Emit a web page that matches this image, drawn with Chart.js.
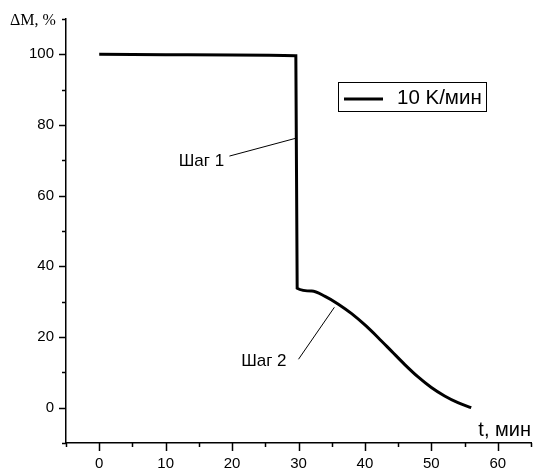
<!DOCTYPE html>
<html>
<head>
<meta charset="utf-8">
<script src="https://cdn.jsdelivr.net/npm/chart.js@4.4.1/dist/chart.umd.min.js"></script>
<style>
    html, body { margin:0; padding:0; background:#ffffff; }
    #box { width:535px; height:472px; position:relative; }
</style>
</head>
<body>
<div id="box"><canvas id="graficoMasa"></canvas></div>
<script>

// Datos (t en min, ΔM en %)

const tiempo = [0, 10, 20, 29.6, 29.8, 32, 34, 36, 38, 40, 42, 44, 46, 48, 50, 52, 54, 56];

const masa = [100, 99.9, 99.8, 99.6, 33.8, 33.0, 31.5, 29.3, 26.6, 23.4, 19.8, 16.0, 12.2, 8.7, 5.7, 3.3, 1.4, 0];

const serie = "10 K/мин";

// Etiquetas de los pasos (posición del texto y punta de la flecha, en datos)

const pasos = [
    { texto:"Шаг 1", x:18.8, y:69.8, desde:[19.6, 71.2], hasta:[29.7, 76.3] },
    { texto:"Шаг 2", x:28.2, y:13.2, desde:[30.0, 13.7], hasta:[35.4, 28.4] }
];

const ejeX = { min:-5, max:65, paso:5, etiqueta:10, desde:0, hasta:60 };
const ejeY = { min:-10, max:110, paso:10, etiqueta:20, desde:0, hasta:100 };

const puntos = tiempo.map((t, i) => ({ x:t, y:masa[i] }));

// Marcas del eje (mayores y menores) + textos

const dibujoExtra = {

    id:"dibujoExtra",

    afterDraw(chart){

        const c = chart.ctx;
        const sx = chart.scales.x;
        const sy = chart.scales.y;
        const area = chart.chartArea;

        c.save();
        c.strokeStyle = "#000";
        c.lineWidth = 1.5;

        // marcas eje X
        sx.ticks.forEach(t => {
            const px = Math.round(sx.getPixelForValue(t.value)) + 0.5;
            const mayor = t.value % ejeX.etiqueta === 0;
            c.beginPath();
            c.moveTo(px, area.bottom);
            c.lineTo(px, area.bottom + (mayor ? 8 : 4));
            c.stroke();
        });

        // marcas eje Y
        sy.ticks.forEach(t => {
            const py = Math.round(sy.getPixelForValue(t.value)) + 0.5;
            const mayor = t.value % ejeY.etiqueta === 0;
            c.beginPath();
            c.moveTo(area.left, py);
            c.lineTo(area.left - (mayor ? 7 : 4), py);
            c.stroke();
        });

        // pasos
        c.fillStyle = "#000";
        c.font = "17px 'Liberation Sans', Arial, sans-serif";
        c.textAlign = "right";
        c.textBaseline = "middle";
        c.lineWidth = 1;

        pasos.forEach(p => {
            c.fillText(p.texto, sx.getPixelForValue(p.x), sy.getPixelForValue(p.y));
            c.beginPath();
            c.moveTo(sx.getPixelForValue(p.desde[0]), sy.getPixelForValue(p.desde[1]));
            c.lineTo(sx.getPixelForValue(p.hasta[0]), sy.getPixelForValue(p.hasta[1]));
            c.stroke();
        });

        // títulos de los ejes
        c.font = "16px 'Liberation Serif', 'Times New Roman', serif";
        c.textAlign = "left";
        c.textBaseline = "alphabetic";
        c.fillText("ΔM, %", 10, 25);

        c.font = "20px 'Liberation Sans', Arial, sans-serif";
        c.textAlign = "right";
        c.fillText("t, мин", 531, 436);

        // leyenda
        c.lineWidth = 1;
        c.strokeRect(338.5, 82.5, 148, 29);
        c.lineWidth = 3;
        c.beginPath();
        c.moveTo(344, 99);
        c.lineTo(383, 99);
        c.stroke();
        c.font = "20.5px 'Liberation Sans', Arial, sans-serif";
        c.textAlign = "left";
        c.textBaseline = "middle";
        c.fillText(chart.data.datasets[0].label, 397, 98);

        c.restore();

    }

};

// Crear gráfico

const ctx = document.getElementById("graficoMasa");

new Chart(ctx,{

    type:"line",

    data:{

        datasets:[{

            label:serie,

            data:puntos,

            borderColor:"#000000",

            borderWidth:3,

            pointRadius:0,

            fill:false,

            cubicInterpolationMode:"monotone"

        }]

    },

    options:{

        responsive:true,

        maintainAspectRatio:false,

        animation:false,

        layout:{
            padding:{ top:19, right:1, left:0, bottom:0 }
        },

        plugins:{

            legend:{ display:false },

            tooltip:{ enabled:false }

        },

        scales:{

            x:{

                type:"linear",

                min:ejeX.min,

                max:ejeX.max,

                afterFit(s){ s.height = 29; },

                afterBuildTicks(s){
                    s.ticks = [];
                    for(let v = ejeX.min; v <= ejeX.max; v += ejeX.paso){ s.ticks.push({ value:v }); }
                },

                ticks:{
                    autoSkip:false,
                    maxRotation:0,
                    padding:4,
                    color:"#000",
                    font:{ family:"'Liberation Sans', Arial, sans-serif", size:15 },
                    callback(v){
                        return (v % ejeX.etiqueta === 0 && v >= ejeX.desde && v <= ejeX.hasta) ? String(v) : "";
                    }
                },

                grid:{
                    display:false,
                    tickLength:8
                },

                border:{
                    display:true,
                    color:"#000",
                    width:1.5
                }

            },

            y:{

                type:"linear",

                min:ejeY.min,

                max:ejeY.max,

                afterFit(s){ s.width = 66; },

                afterBuildTicks(s){
                    s.ticks = [];
                    for(let v = ejeY.min; v <= ejeY.max; v += ejeY.paso){ s.ticks.push({ value:v }); }
                },

                ticks:{
                    autoSkip:false,
                    padding:4,
                    color:"#000",
                    font:{ family:"'Liberation Sans', Arial, sans-serif", size:15 },
                    callback(v){
                        return (v % ejeY.etiqueta === 0 && v >= ejeY.desde && v <= ejeY.hasta) ? String(v) : "";
                    }
                },

                grid:{
                    display:false,
                    tickLength:8
                },

                border:{
                    display:true,
                    color:"#000",
                    width:1.5
                }

            }

        }

    },

    plugins:[dibujoExtra]

});

</script>
</body>
</html>
